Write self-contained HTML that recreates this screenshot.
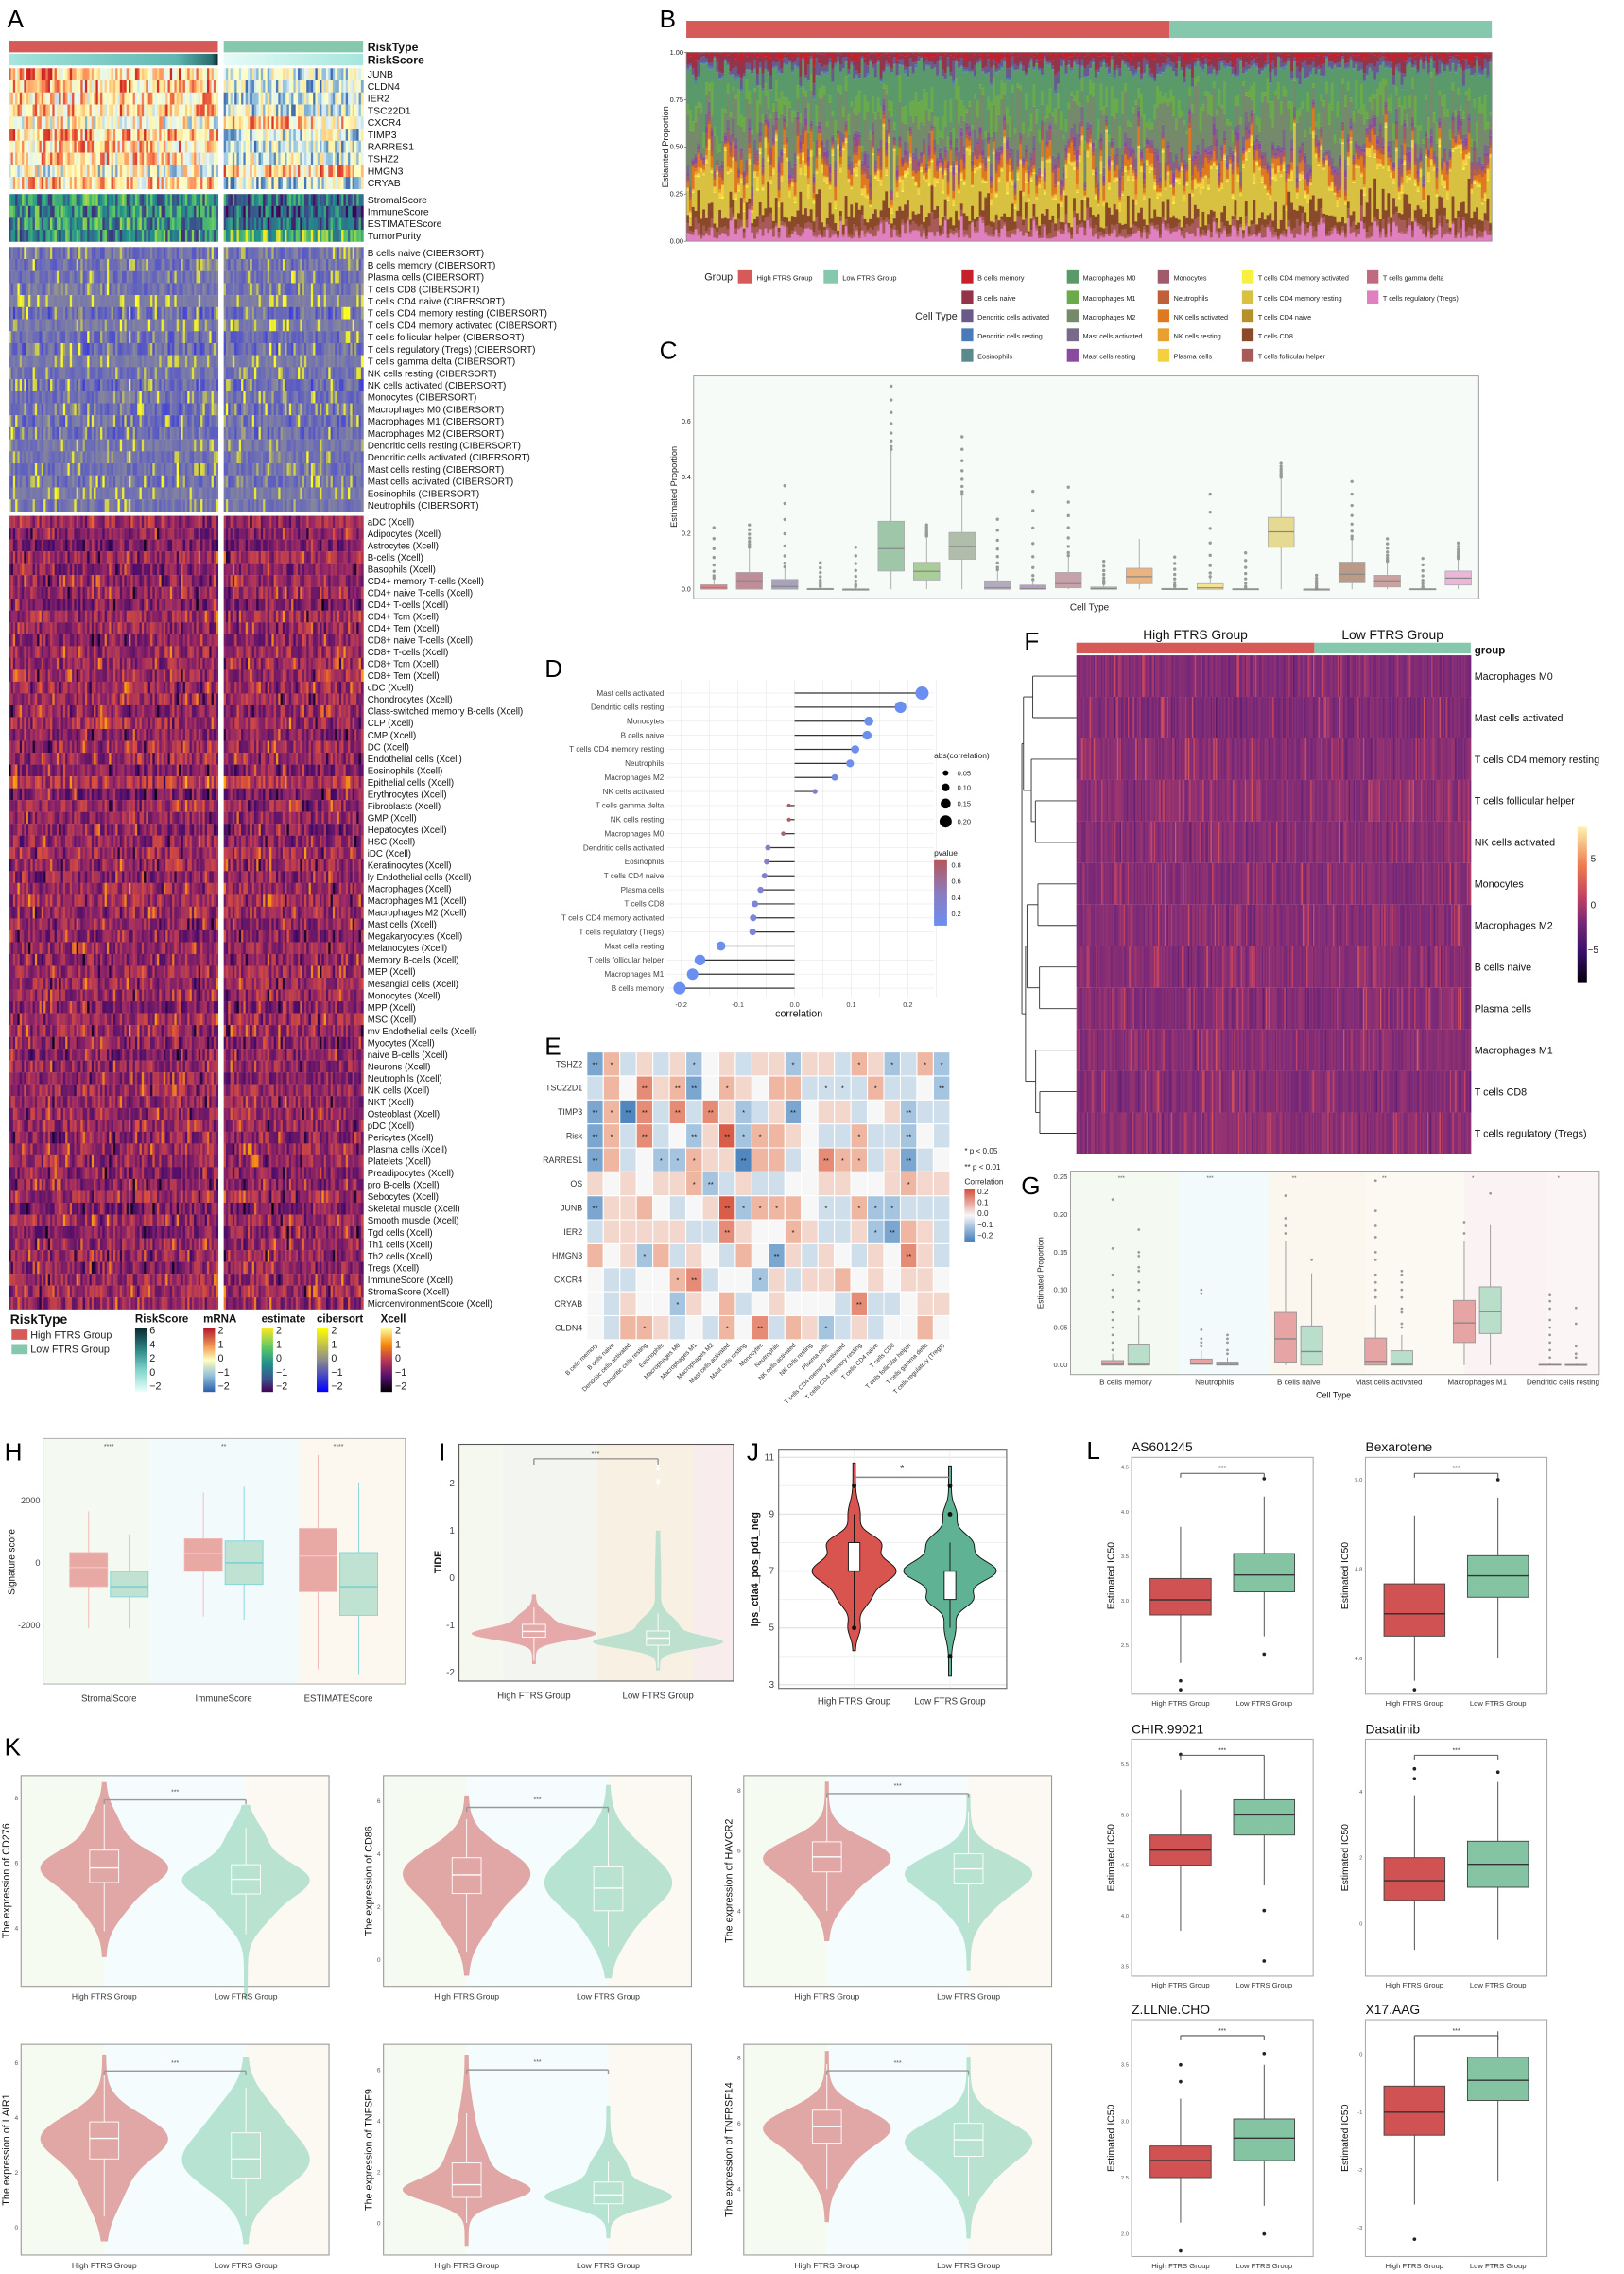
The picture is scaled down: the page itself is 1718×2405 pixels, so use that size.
<!DOCTYPE html>
<html><head><meta charset="utf-8"><title>Immune infiltration figure</title>
<style>
html,body{margin:0;padding:0;background:#fff;}
svg{display:block;font-family:"Liberation Sans",Arial,sans-serif;}
</style></head>
<body>
<svg id="fig" xmlns="http://www.w3.org/2000/svg" viewBox="0 0 1118 1565" width="1718" height="2405">
<defs>
<linearGradient id="gRisk" x1="0" y1="0" x2="0" y2="1"><stop offset="0" stop-color="#0b2a30"/><stop offset="0.35" stop-color="#2e8a88"/><stop offset="0.65" stop-color="#7fd3cb"/><stop offset="1" stop-color="#eafffb"/></linearGradient>
<linearGradient id="gRiskH" x1="0" y1="0" x2="1" y2="0"><stop offset="0" stop-color="#a6e6dd"/><stop offset="0.8" stop-color="#5fb7b1"/><stop offset="0.97" stop-color="#2a6e70"/><stop offset="1" stop-color="#0b2a30"/></linearGradient>
<linearGradient id="gRiskL" x1="0" y1="0" x2="1" y2="0"><stop offset="0" stop-color="#e6fbf7"/><stop offset="1" stop-color="#a6e6dd"/></linearGradient>
<linearGradient id="gMrna" x1="0" y1="0" x2="0" y2="1"><stop offset="0" stop-color="#b2182b"/><stop offset="0.3" stop-color="#f4a05a"/><stop offset="0.5" stop-color="#ffffbf"/><stop offset="0.75" stop-color="#91bfdb"/><stop offset="1" stop-color="#2c5fa8"/></linearGradient>
<linearGradient id="gEst" x1="0" y1="0" x2="0" y2="1"><stop offset="0" stop-color="#fde725"/><stop offset="0.3" stop-color="#5dc963"/><stop offset="0.55" stop-color="#21908d"/><stop offset="0.8" stop-color="#3b528b"/><stop offset="1" stop-color="#440154"/></linearGradient>
<linearGradient id="gCib" x1="0" y1="0" x2="0" y2="1"><stop offset="0" stop-color="#ffff00"/><stop offset="0.5" stop-color="#8c8c8c"/><stop offset="1" stop-color="#0000ff"/></linearGradient>
<linearGradient id="gXc" x1="0" y1="0" x2="0" y2="1"><stop offset="0" stop-color="#fcffa4"/><stop offset="0.25" stop-color="#f98c0a"/><stop offset="0.5" stop-color="#bc3754"/><stop offset="0.75" stop-color="#57106e"/><stop offset="1" stop-color="#000004"/></linearGradient>
<linearGradient id="gCor" x1="0" y1="0" x2="0" y2="1"><stop offset="0" stop-color="#d44a36"/><stop offset="0.5" stop-color="#f7f7f7"/><stop offset="1" stop-color="#3f7ab8"/></linearGradient>
<linearGradient id="gP" x1="0" y1="0" x2="0" y2="1"><stop offset="0" stop-color="#b5575a"/><stop offset="0.5" stop-color="#8c7bbf"/><stop offset="1" stop-color="#6b8ff0"/></linearGradient>
<linearGradient id="gF" x1="0" y1="0" x2="0" y2="1"><stop offset="0" stop-color="#fcf3b0"/><stop offset="0.25" stop-color="#ee7a4e"/><stop offset="0.45" stop-color="#c24262"/><stop offset="0.6" stop-color="#7b2a78"/><stop offset="0.8" stop-color="#3a0f6a"/><stop offset="1" stop-color="#05000a"/></linearGradient>
</defs>
</svg>
<script>
// ---------------- data arrays ----------------
const geneRows=['JUNB','CLDN4','IER2','TSC22D1','CXCR4','TIMP3','RARRES1','TSHZ2','HMGN3','CRYAB'];
const geneHighMean=[0.64,0.62,0.6,0.6,0.5,0.63,0.6,0.58,0.46,0.6];
const geneLowMean=[0.36,0.36,0.36,0.38,0.6,0.38,0.36,0.4,0.62,0.36];
const scoreRows=['StromalScore','ImmuneScore','ESTIMATEScore','TumorPurity'];
const scoreHighMean=[0.52,0.5,0.52,0.5];
const scoreLowMean=[0.35,0.3,0.33,0.7];
const cibRows=['B cells naive','B cells memory','Plasma cells','T cells CD8','T cells CD4 naive','T cells CD4 memory resting','T cells CD4 memory activated','T cells follicular helper','T cells regulatory (Tregs)','T cells gamma delta','NK cells resting','NK cells activated','Monocytes','Macrophages M0','Macrophages M1','Macrophages M2','Dendritic cells resting','Dendritic cells activated','Mast cells resting','Mast cells activated','Eosinophils','Neutrophils'];
const cibMean=[0.4,0.4,0.4,0.4,0.5,0.38,0.46,0.38,0.38,0.47,0.42,0.38,0.4,0.38,0.38,0.38,0.44,0.42,0.4,0.4,0.46,0.42];
const cibSpread=[0.2,0.2,0.18,0.2,0.05,0.25,0.12,0.22,0.25,0.1,0.15,0.25,0.18,0.22,0.22,0.22,0.12,0.15,0.18,0.2,0.1,0.15];
const xcRows=['aDC','Adipocytes','Astrocytes','B-cells','Basophils','CD4+ memory T-cells','CD4+ naive T-cells','CD4+ T-cells','CD4+ Tcm','CD4+ Tem','CD8+ naive T-cells','CD8+ T-cells','CD8+ Tcm','CD8+ Tem','cDC','Chondrocytes','Class-switched memory B-cells','CLP','CMP','DC','Endothelial cells','Eosinophils','Epithelial cells','Erythrocytes','Fibroblasts','GMP','Hepatocytes','HSC','iDC','Keratinocytes','ly Endothelial cells','Macrophages','Macrophages M1','Macrophages M2','Mast cells','Megakaryocytes','Melanocytes','Memory B-cells','MEP','Mesangial cells','Monocytes','MPP','MSC','mv Endothelial cells','Myocytes','naive B-cells','Neurons','Neutrophils','NK cells','NKT','Osteoblast','pDC','Pericytes','Plasma cells','Platelets','Preadipocytes','pro B-cells','Sebocytes','Skeletal muscle','Smooth muscle','Tgd cells','Th1 cells','Th2 cells','Tregs','ImmuneScore','StromaScore','MicroenvironmentScore'];
const xcMean=[0.5,0.45,0.42,0.5,0.44,0.45,0.48,0.42,0.5,0.48,0.46,0.5,0.48,0.5,0.52,0.5,0.48,0.52,0.45,0.5,0.5,0.44,0.55,0.42,0.5,0.48,0.45,0.48,0.52,0.5,0.45,0.5,0.52,0.48,0.46,0.44,0.48,0.46,0.5,0.5,0.48,0.44,0.52,0.5,0.44,0.45,0.48,0.46,0.5,0.48,0.5,0.48,0.46,0.5,0.48,0.45,0.46,0.5,0.42,0.5,0.45,0.5,0.48,0.46,0.5,0.5,0.48];

const cellTypes=['B cells memory','B cells naive','Dendritic cells activated','Dendritic cells resting','Eosinophils','Macrophages M0','Macrophages M1','Macrophages M2','Mast cells activated','Mast cells resting','Monocytes','Neutrophils','NK cells activated','NK cells resting','Plasma cells','T cells CD4 memory activated','T cells CD4 memory resting','T cells CD4 naive','T cells CD8','T cells follicular helper','T cells gamma delta','T cells regulatory (Tregs)'];
const cellColors=['#c8202a','#94344a','#6a5a8a','#4a7ab8','#5a8a8c','#5a9a6a','#6aaa4a','#748a6a','#786a88','#8a4aa0','#a05a6a','#c0603a','#e07820','#e8a030','#f2d040','#f8f040','#d8c040','#b8902a','#8a4a2a','#a85a58','#c06a80','#e080c0'];
const stackMean=[0.02,0.04,0.03,0.005,0.005,0.17,0.07,0.16,0.03,0.02,0.04,0.01,0.05,0.01,0.02,0.005,0.2,0.002,0.07,0.035,0.005,0.045];
const nSamples=300, nHigh=181;

const cBoxes=[[0,0,0.005,0.016,0.04,0.22],[0,0,0.03,0.06,0.15,0.23],[0,0,0.01,0.035,0.08,0.37],[0,0,0,0.003,0.01,0.095],[0,0,0,0,0.01,0.15],[0,0.065,0.145,0.243,0.5,0.726],[0,0.033,0.064,0.096,0.19,0.23],[0,0.107,0.153,0.203,0.34,0.545],[0,0,0.005,0.03,0.07,0.25],[0,0,0.002,0.015,0.035,0.35],[0,0.005,0.02,0.06,0.12,0.365],[0,0,0.002,0.008,0.02,0.1],[0,0.02,0.045,0.075,0.18,0.18],[0,0,0,0.003,0.01,0.115],[0,0,0.005,0.02,0.045,0.34],[0,0,0,0.002,0.005,0.13],[0,0.15,0.205,0.257,0.4,0.45],[0,0,0,0,0,0.05],[0,0.023,0.054,0.097,0.18,0.385],[0,0.008,0.03,0.05,0.1,0.18],[0,0,0,0.002,0.005,0.11],[0,0.015,0.04,0.065,0.11,0.165]];

const dCells=['Mast cells activated','Dendritic cells resting','Monocytes','B cells naive','T cells CD4 memory resting','Neutrophils','Macrophages M2','NK cells activated','T cells gamma delta','NK cells resting','Macrophages M0','Dendritic cells activated','Eosinophils','T cells CD4 naive','Plasma cells','T cells CD8','T cells CD4 memory activated','T cells regulatory (Tregs)','Mast cells resting','T cells follicular helper','Macrophages M1','B cells memory'];
const dCorr=[0.225,0.187,0.131,0.128,0.107,0.098,0.071,0.036,-0.01,-0.01,-0.02,-0.047,-0.049,-0.053,-0.06,-0.07,-0.073,-0.074,-0.13,-0.167,-0.18,-0.203];
const dPval=[0.0001,0.0005,0.01,0.01,0.03,0.05,0.16,0.45,0.86,0.87,0.75,0.38,0.37,0.33,0.27,0.2,0.18,0.18,0.02,0.002,0.001,0.0003];

const eRows=['TSHZ2','TSC22D1','TIMP3','Risk','RARRES1','OS','JUNB','IER2','HMGN3','CXCR4','CRYAB','CLDN4'];
const eVals=['BcDdDdC0dDddCddDcdCDcC','Dc0bdcB0cd0ccDDDDcDD0C','BcAbDbDbdCDdB0ddD0dCDD','BcDbD0CdaCccd0DDcDDC0D','BcD0CCcddAccD0bccDdBD0','d0d0ddcCDdDD00dd00dcdd','Bddc0D0daCccc0DDcCCDDD','DdddddDDbd00cdDDdCBcdD','c0dCcDd0Dc0BdDd0Dd0bdD','0DD00cbD00CdDddc0d0dd0','0Dd00Cd0cD0d000DbDD0dd','0DccdD0Dc0bDcdCDdD00c0'];
const eStars=['2100001000001000101011','0002022010000011010002','2122020201002000000200','2102002021100000100200','2000111002000021100200','0000001200000000000100','2000000021110010111000','0000000020001000012000','0001000000020000000200','0000012000100000000000','0000010000000000200000','0001000010200010000000'];

const fRows=['Macrophages M0','Mast cells activated','T cells CD4 memory resting','T cells follicular helper','NK cells activated','Monocytes','Macrophages M2','B cells naive','Plasma cells','Macrophages M1','T cells CD8','T cells regulatory (Tregs)'];
const fMean=[0.6,0.58,0.62,0.63,0.62,0.61,0.62,0.62,0.61,0.62,0.61,0.63];

const gCells=['B cells memory','Neutrophils','B cells naive','Mast cells activated','Macrophages M1','Dendritic cells resting'];
const gHigh=[[0,0,0.001,0.006,0.015],[0,0.001,0.002,0.008,0.02],[0,0.004,0.035,0.07,0.165],[0,0,0.005,0.036,0.08],[0,0.03,0.056,0.086,0.165],[0,0,0.0005,0.001,0.003]];
const gLow=[[0,0,0.001,0.028,0.066],[0,0,0.001,0.004,0.01],[0,0,0.018,0.052,0.122],[0,0,0.001,0.019,0.04],[0,0.042,0.071,0.104,0.186],[0,0,0,0.001,0.002]];
const gHighOut=[[0.22,0.155,0.12,0.1,0.09,0.07,0.06,0.05,0.04,0.03,0.02],[0.1,0.095,0.047,0.035,0.03,0.025],[0.225,0.195,0.185,0.175],[0.245,0.205,0.185,0.17,0.15,0.14,0.12,0.11,0.1,0.09],[0.19,0.175],[0.093,0.085,0.075,0.06,0.05,0.04,0.03,0.02,0.01]];
const gLowOut=[[0.18,0.15,0.145,0.13,0.125,0.11,0.1,0.085,0.075],[0.04,0.035,0.03,0.02,0.015],[0.14],[0.125,0.12,0.11,0.1,0.09,0.075,0.07,0.055,0.05],[0.228],[0.076,0.055,0.025,0.015,0.01]];
const gStars=['***','***','**','**','*','*'];

const hCats=['StromalScore','ImmuneScore','ESTIMATEScore'];
const hHigh=[[-2100,-760,-150,330,1650],[-1720,-270,300,770,2250],[-3410,-920,220,1100,3450]];
const hLow=[[-2100,-1090,-760,-280,910],[-1820,-690,0,700,2440],[-3560,-1680,-760,330,2580]];
const hStars=['****','**','****'];

const iHighBox=[-1.75,-1.25,-1.13,-0.98,-0.62];
const iLowBox=[-1.9,-1.42,-1.27,-1.12,-0.75];

const jHighBox=[5,7,7,8,9];
const jLowBox=[5,6,7,7,8];

const kGenes=['CD276','CD86','HAVCR2','LAIR1','TNFSF9','TNFRSF14'];
const kDomain=[[2.2,8.7],[-1,6.95],[1.5,8.5],[-1,6.67],[-1.26,7],[2,8.4]];
const kTicks=[[4,6,8],[0,2,4,6],[4,6,8],[0,2,4,6],[0,2,4,6],[4,6,8]];
const kHighComp=[[[5.9,0.55,1],[4.8,0.6,0.35],[7.2,0.5,0.2]],[[3.3,0.9,1],[1.5,0.8,0.3]],[[5.8,0.6,1],[4.6,0.6,0.3]],[[3.3,0.8,1],[1.5,0.9,0.3]],[[1.25,0.45,1],[2.3,0.8,0.35],[4,0.9,0.1]],[[5.9,0.55,1],[4.8,0.6,0.3]]];
const kLowComp=[[[5.5,0.55,1],[4.4,0.5,0.3],[6.8,0.5,0.25]],[[2.7,0.9,1],[4,0.9,0.45],[1,0.8,0.25]],[[5.3,0.6,1],[4.2,0.6,0.3]],[[2.4,1.0,1],[4.2,0.8,0.3]],[[1.0,0.4,1],[2.1,0.6,0.3]],[[5.5,0.6,1],[4.4,0.6,0.3]]];
const kRange=[[[3.1,8.5],[1.8,7.8]],[[-0.6,6.2],[-0.7,6.6]],[[3,8.3],[2,7.9]],[[-0.5,6.3],[-0.6,6.2]],[[-0.9,6.6],[-0.6,4.6]],[[3,8.2],[2.5,8]]];
const kHighBox=[[3.9,5.4,5.85,6.4,7.9],[0.3,2.5,3.2,3.85,5.3],[4,5.3,5.8,6.3,7.8],[0.4,2.5,3.25,3.85,5.6],[0,1,1.5,2.35,4.3],[4,5.4,5.9,6.4,7.8]];
const kLowBox=[[3.8,5.05,5.5,5.95,7.1],[0.5,1.85,2.7,3.5,5.5],[3.6,4.9,5.4,5.9,7.3],[0.4,1.8,2.5,3.45,5.1],[0,0.75,1.1,1.6,2.4],[3.8,5,5.5,6,7.4]];
const kBracket=[7.95,5.75,7.9,5.7,6,7.6];

const lDrugs=['AS601245','Bexarotene','CHIR.99021','Dasatinib','Z.LLNle.CHO','X17.AAG'];
const lDomain=[[1.95,4.61],[4.52,5.05],[3.4,5.75],[-1.6,5.6],[1.8,3.9],[-3.5,0.6]];
const lTicks=[[2.5,3.0,3.5,4.0,4.5],[4.6,4.8,5.0],[3.5,4.0,4.5,5.0,5.5],[0,2,4],[2.0,2.5,3.0,3.5],[-3,-2,-1,0]];
const lHigh=[[2.3,2.84,3.01,3.25,3.83],[4.55,4.65,4.70,4.767,4.92],[3.85,4.5,4.65,4.8,5.25],[-0.8,0.7,1.3,2.0,3.9],[2.1,2.5,2.65,2.78,3.2],[-2.6,-1.4,-1.0,-0.55,0.3]];
const lLow=[[2.6,3.1,3.29,3.53,4.17],[4.6,4.737,4.785,4.83,4.96],[4.3,4.8,5.0,5.15,5.55],[-0.5,1.1,1.8,2.5,4.3],[2.25,2.65,2.85,3.02,3.5],[-2.2,-0.8,-0.45,-0.05,0.4]];
const lHighOut=[[2.1,2.0],[4.53],[5.6],[4.4,4.7],[3.35,3.5,1.85],[-3.2]];
const lLowOut=[[4.37,2.4],[5.0],[4.05,3.55],[4.6],[3.6,2.0],[]];

// ---------------- helpers ----------------
const NS='http://www.w3.org/2000/svg';
const svg=document.getElementById('fig');
function mk(parent,tag,attrs,name,inter){
  const el=document.createElementNS(NS,tag);
  for(const k in attrs) el.setAttribute(k,attrs[k]);
  
  
  parent.appendChild(el);return el;
}
function txt(parent,x,y,s,size,extra,name){
  const a=Object.assign({x:x,y:y,'font-size':size,fill:'#222'},extra||{});
  const t=mk(parent,'text',a,name||'label',false);t.textContent=s;return t;
}
function grp(name){return mk(svg,'g',{},name,false);}
function hsh(a,b){const x=Math.sin(a*127.1+b*311.7+a*b*0.013)*43758.5453;return x-Math.floor(x);}
function hx(c){return [parseInt(c.slice(1,3),16),parseInt(c.slice(3,5),16),parseInt(c.slice(5,7),16)];}
function ramp(stops,t){t=Math.max(0,Math.min(0.9999,t));const n=stops.length-1;const i=Math.floor(t*n);const f=t*n-i;const a=hx(stops[i]),b=hx(stops[i+1]);return 'rgb('+a.map((v,k)=>Math.round(v+(b[k]-v)*f)).join(',')+')';}
function line(g,x1,y1,x2,y2,stroke,w,name){return mk(g,'line',{x1:x1,y1:y1,x2:x2,y2:y2,stroke:stroke,'stroke-width':w},name||'line',false);}
function rect(g,x,y,w,h,fill,name,extra){return mk(g,'rect',Object.assign({x:x,y:y,width:w,height:h,fill:fill},extra||{}),name||'rect',false);}
function letter(s,x,y){txt(svg,x,y,s,17,{fill:'#000'},'panel-letter-'+s);}
function boxplot(g,cx,bw,yOf,s,fill,stroke,name,medStroke){
  line(g,cx,yOf(s[0]),cx,yOf(s[1]),stroke,0.6,name+'-whisker-low');
  line(g,cx,yOf(s[3]),cx,yOf(s[4]),stroke,0.6,name+'-whisker-high');
  rect(g,cx-bw/2,yOf(s[3]),bw,Math.max(0.6,yOf(s[1])-yOf(s[3])),fill,name+'-box',{stroke:stroke,'stroke-width':0.6});
  line(g,cx-bw/2,yOf(s[2]),cx+bw/2,yOf(s[2]),medStroke||stroke,0.9,name+'-median');
}
function dens(comps,v){let s=0;for(const c of comps)s+=c[2]*Math.exp(-0.5*Math.pow((v-c[0])/c[1],2));return s;}
function violin(g,cx,yOf,vmin,vmax,comps,W,fill,stroke,sw,name,op){
  const N=80;let mx=0;const vals=[];
  for(let i=0;i<=N;i++){const v=vmin+(vmax-vmin)*i/N;const d=dens(comps,v);vals.push([v,d]);if(d>mx)mx=d;}
  const wOf=d=>W*(0.03+0.97*d/mx);
  let d='M'+vals.map(p=>(cx+wOf(p[1])).toFixed(2)+','+yOf(p[0]).toFixed(2)).join('L');
  for(let i=N;i>=0;i--){d+='L'+(cx-wOf(vals[i][1])).toFixed(2)+','+yOf(vals[i][0]).toFixed(2);}
  d+='Z';
  mk(g,'path',{d:d,fill:fill,stroke:stroke,'stroke-width':sw,'fill-opacity':op||1},name,false);
}

// ================= Panel A =================
(function(){
  letter('A',5,19);
  const g=grp('panel-a-heatmap');
  const X0=6,X1=150,X2=154,X3=250;const nL=96,nR=64;
  const cw1=(X1-X0)/nL,cw2=(X3-X2)/nR;
  const cols=[];for(let i=0;i<nL;i++)cols.push([X0+i*cw1,cw1,0,i]);for(let i=0;i<nR;i++)cols.push([X2+i*cw2,cw2,1,i+nL]);
  rect(g,X0,28,X1-X0,8,'#d65a58','risktype-high-bar');
  rect(g,X2,28,X3-X2,8,'#86c8ad','risktype-low-bar');
  rect(g,X0,37,X1-X0,8,'url(#gRiskH)','riskscore-high-bar');
  rect(g,X2,37,X3-X2,8,'url(#gRiskL)','riskscore-low-bar');
  txt(g,253,35,'RiskType',8,{'font-weight':'bold',fill:'#111'},'risktype-label');
  txt(g,253,44,'RiskScore',8,{'font-weight':'bold',fill:'#111'},'riskscore-label');
  const mrna=['#313695','#4575b4','#91bfdb','#e0f3f8','#ffffbf','#fee090','#fc8d59','#d73027','#a50026'];
  const vir=['#440154','#3b528b','#21908d','#5dc963','#fde725'];
  const cib=['#1010ff','#5555c8','#7070b4','#8a8a96','#c8c850','#ffff20'];
  const inf=['#000004','#420a68','#932667','#dd513a','#fca50a','#fcffa4'];
  function block(rows,y0,rh,colorFn,name,fs){
    rows.forEach((r,ri)=>{
      cols.forEach(c=>{
        rect(g,c[0].toFixed(2),(y0+ri*rh).toFixed(2),(c[1]+0.35).toFixed(2),(rh+0.1).toFixed(2),colorFn(ri,c[2],c[3]),name+'-cell');
      });
      txt(g,253,y0+ri*rh+rh*0.78,r,fs,{fill:'#111'},name+'-row-label');
    });
  }
  block(geneRows,47,8.3,(r,grpI,j)=>{const m=grpI?geneLowMean[r]:geneHighMean[r];const n=hsh(j,r+1);return ramp(mrna,m+(n-0.5)*0.55);},'mrna',6.8);
  block(scoreRows,133.5,8.2,(r,grpI,j)=>{const m=grpI?scoreLowMean[r]:scoreHighMean[r];const n=hsh(j,r+31);return ramp(vir,m+(n-0.5)*0.7);},'estimate',6.8);
  block(cibRows.map(s=>s+' (CIBERSORT)'),170,8.27,(r,grpI,j)=>{const n=hsh(j,r+71);const n2=hsh(j+500,r+9);let v=cibMean[r]+(n-0.5)*2*cibSpread[r];if(n2>0.86)v+=0.35+0.2*(n2-0.86)*5;return ramp(cib,v);},'cibersort',6.5);
  block(xcRows.map(s=>s+' (Xcell)'),355,8.15,(r,grpI,j)=>{const n=hsh(j,r+131);const n2=hsh(j+900,r+3);let v=xcMean[r]-0.08+(n-0.5)*0.3;if(n2>0.9)v+=0.2;if(n2<0.07)v-=0.18;return ramp(inf,v);},'xcell',6.3);
  const lg=grp('panel-a-legend');
  txt(lg,7,911,'RiskType',9,{'font-weight':'bold',fill:'#111'},'legend-risktype-title');
  rect(lg,8,915,11,7,'#d65a58','legend-high-swatch');txt(lg,21,921,'High FTRS Group',7,{},'legend-high-label');
  rect(lg,8,925,11,7,'#86c8ad','legend-low-swatch');txt(lg,21,931,'Low FTRS Group',7,{},'legend-low-label');
  const bars=[[93,'RiskScore','url(#gRisk)',['6','4','2','0','−2']],[140,'mRNA','url(#gMrna)',['2','1','0','−1','−2']],[180,'estimate','url(#gEst)',['2','1','0','−1','−2']],[218,'cibersort','url(#gCib)',['2','1','0','−1','−2']],[262,'Xcell','url(#gXc)',['2','1','0','−1','−2']]];
  bars.forEach(b=>{
    txt(lg,b[0],910,b[1],7.5,{'font-weight':'bold',fill:'#111'},'legend-'+b[1]+'-title');
    rect(lg,b[0],914,8,44,b[2],'legend-'+b[1]+'-colorbar');
    b[3].forEach((s,i)=>txt(lg,b[0]+10,918+i*9.6,s,7,{},'legend-'+b[1]+'-tick'));
  });
})();

// ================= Panel B =================
(function(){
  letter('B',454,19);
  const g=grp('panel-b-stacked-bars');
  const X0=472.5,X1=1027,Y0=36,Y1=166;
  rect(g,X0,14.3,805-X0,11.7,'#d65a58','group-bar-high');
  rect(g,805,14.3,X1-805,11.7,'#86c8ad','group-bar-low');
  const bw=(X1-X0)/nSamples;
  const yOf=v=>Y1-v*(Y1-Y0);
  for(let s=0;s<nSamples;s++){
    const raw=stackMean.map((m,k)=>m*(0.25+1.5*hsh(s+3,k+7)*hsh(k+11,s+1)*1.6));
    const tot=raw.reduce((a,b)=>a+b,0);
    let cum=0;
    for(let k=cellTypes.length-1;k>=0;k--){
      const p=raw[k]/tot;
      rect(g,(X0+s*bw).toFixed(2),yOf(cum+p).toFixed(2),(bw+0.25).toFixed(2),(p*(Y1-Y0)+0.05).toFixed(2),cellColors[k],'stack-segment');
      cum+=p;
    }
  }
  mk(g,'rect',{x:X0,y:Y0,width:X1-X0,height:Y1-Y0,fill:'none',stroke:'#888','stroke-width':0.5},'plot-frame',false);
  ['0.00','0.25','0.50','0.75','1.00'].forEach((s,i)=>{txt(g,X0-2,yOf(i*0.25)+1.6,s,4.8,{'text-anchor':'end'},'y-tick-label');line(g,X0-1.5,yOf(i*0.25),X0,yOf(i*0.25),'#555',0.4,'y-tick');});
  txt(g,460,101,'Estiamted Proportion',6,{'text-anchor':'middle',transform:'rotate(-90 460 101)'},'y-axis-title');
  const lg=grp('panel-b-legend');
  txt(lg,485,193,'Group',7,{},'legend-group-title');
  rect(lg,508,186,10,9,'#d65a58','legend-high-swatch');txt(lg,521,193,'High FTRS Group',4.8,{},'legend-high-label');
  rect(lg,567,186,10,9,'#86c8ad','legend-low-swatch');txt(lg,580,193,'Low FTRS Group',4.8,{},'legend-low-label');
  txt(lg,630,220,'Cell Type',7,{},'legend-celltype-title');
  const cx=[662,734.5,797,855,941],ry=[191,205,218,231,245];
  cellTypes.forEach((c,i)=>{const col=Math.floor(i/5),row=i%5;rect(lg,cx[col],ry[row]-5,8,9,cellColors[i],'legend-swatch');txt(lg,cx[col]+11,ry[row]+2,c,4.7,{},'legend-entry');});
})();

// ================= Panel C =================
(function(){
  letter('C',454,247);
  const g=grp('panel-c-boxplots');
  const X0=477.5,X1=1018,Y0=258.7,Y1=412;
  rect(g,X0,Y0,X1-X0,Y1-Y0,'#f6fbf8','plot-background',{stroke:'#999','stroke-width':0.6});
  const yOf=v=>405.5-v*192.5;
  cBoxes.forEach((b,i)=>{
    const cx=491.5+i*24.4;
    const sg=mk(g,'g',{},'box-'+i,false);
    const col=cellColors[i];
    line(sg,cx,yOf(b[0]),cx,yOf(b[1]),'#999',0.5,'whisker');
    line(sg,cx,yOf(b[3]),cx,yOf(b[4]),'#999',0.5,'whisker');
    for(let k=0;k<8;k++){const v=b[4]+(b[5]-b[4])*Math.pow(k/7,1.6);if(b[5]>b[4])mk(sg,'circle',{cx:cx,cy:yOf(v),r:1.1,fill:'#999'},'outlier',false);}
    rect(sg,cx-9,yOf(b[3]),18,Math.max(0.8,yOf(b[1])-yOf(b[3])),col,'box',{'fill-opacity':0.55,stroke:'#aaa','stroke-width':0.5});
    line(sg,cx-9,yOf(b[2]),cx+9,yOf(b[2]),'#888',0.8,'median');
  });
  ['0.0','0.2','0.4','0.6'].forEach((s,i)=>{txt(g,X0-2,yOf(i*0.2)+1.5,s,4.5,{'text-anchor':'end'},'y-tick-label');});
  txt(g,750,420,'Cell Type',6.5,{'text-anchor':'middle'},'x-axis-title');
  txt(g,466,335,'Estimated Proportion',6,{'text-anchor':'middle',transform:'rotate(-90 466 335)'},'y-axis-title');
})();

// ================= Panel D =================
(function(){
  letter('D',375,466);
  const g=grp('panel-d-lollipop');
  const xOf=v=>547+v*390;const yOf=i=>477+i*9.67;
  for(let v=-0.2;v<=0.2501;v+=0.05){line(g,xOf(v),468,xOf(v),686,'#ececec',0.5,'grid-x');}
  dCells.forEach((c,i)=>line(g,459,yOf(i),643,yOf(i),'#ececec',0.5,'grid-y'));
  dCells.forEach((c,i)=>{
    txt(g,457,yOf(i)+1.8,c,5.3,{'text-anchor':'end',fill:'#444'},'row-label');
    line(g,xOf(0),yOf(i),xOf(dCorr[i]),yOf(i),'#333',0.8,'lollipop-stem');
    const col=ramp(['#6b8ff0','#8c7bbf','#b5575a'],dPval[i]/0.9);
    mk(g,'circle',{cx:xOf(dCorr[i]),cy:yOf(i),r:1.2+Math.abs(dCorr[i])*15,fill:col},'lollipop-dot',false);
  });
  ['-0.2','-0.1','0.0','0.1','0.2'].forEach((s,i)=>txt(g,xOf(-0.2+i*0.1),693,s,4.8,{'text-anchor':'middle',fill:'#444'},'x-tick-label'));
  txt(g,550,700,'correlation',7,{'text-anchor':'middle',fill:'#111'},'x-axis-title');
  txt(g,643,522,'abs(correlation)',5.5,{},'legend-size-title');
  [0.05,0.10,0.15,0.20].forEach((v,i)=>{const y=532+i*9.3+i*i*0.6;mk(g,'circle',{cx:651,cy:y,r:1.2+v*15,fill:'#000'},'legend-size-dot',false);txt(g,659,y+1.8,v.toFixed(2),4.8,{},'legend-size-label');});
  txt(g,643,589,'pvalue',5.5,{},'legend-pvalue-title');
  rect(g,643,592,9,45,'url(#gP)','legend-pvalue-colorbar');
  ['0.8','0.6','0.4','0.2'].forEach((s,i)=>txt(g,655,597+i*11.2,s,4.8,{},'legend-pvalue-label'));
})();

// ================= Panel E =================
(function(){
  letter('E',375,726);
  const g=grp('panel-e-corr-heatmap');
  const x0=404,cw=11.36,y0=724,rh=16.5;
  const map={A:-0.2,B:-0.15,C:-0.1,D:-0.05,'0':0,d:0.05,c:0.1,b:0.15,a:0.2};
  eRows.forEach((r,ri)=>{
    txt(g,401,y0+ri*rh+rh/2+2,r,5.8,{'text-anchor':'end',fill:'#333'},'row-label');
    for(let j=0;j<cellTypes.length;j++){
      const v=map[eVals[ri][j]];
      rect(g,x0+j*cw,y0+ri*rh,cw,rh,ramp(['#3f7ab8','#9cbfdd','#f7f7f7','#eeb09a','#d44a36'],(v+0.22)/0.44),'corr-cell',{stroke:'#fff','stroke-width':0.7});
      const st=eStars[ri][j];
      if(st!=='0')txt(g,x0+j*cw+cw/2,y0+ri*rh+rh/2+2,st==='2'?'**':'*',5,{'text-anchor':'middle',fill:'#111'},'significance-star');
    }
  });
  cellTypes.forEach((c,j)=>{const x=x0+j*cw+cw/2+2,y=926;txt(g,x,y,c,4.3,{'text-anchor':'end',transform:'rotate(-45 '+x+' '+y+')',fill:'#333'},'column-label');});
  txt(g,664,794,'* p < 0.05',5.3,{},'legend-p05');
  txt(g,664,805,'** p < 0.01',5.3,{},'legend-p01');
  txt(g,664,815,'Correlation',5.5,{},'legend-corr-title');
  rect(g,664,818,7,37,'url(#gCor)','legend-corr-colorbar');
  ['0.2','0.1','0.0','−0.1','−0.2'].forEach((s,i)=>txt(g,673,822+i*7.5,s,5.3,{},'legend-corr-label'));
})();

// ================= Panel F =================
(function(){
  letter('F',705,447);
  const g=grp('panel-f-heatmap');
  const X0=741,X1=1012.5,Y0=451,rh=28.6;const nC=300,nH=181;
  const split=X0+(X1-X0)*nH/nC;
  rect(g,X0,442.3,split-X0,7.4,'#d65a58','group-bar-high');
  rect(g,split,442.3,X1-split,7.4,'#86c8ad','group-bar-low');
  txt(g,(X0+split)/2,440,'High FTRS Group',9,{'text-anchor':'middle',fill:'#111'},'high-group-label');
  txt(g,(split+X1)/2,440,'Low FTRS Group',9,{'text-anchor':'middle',fill:'#111'},'low-group-label');
  txt(g,1015,450,'group',7.5,{'font-weight':'bold',fill:'#111'},'group-label');
  const pal=['#05000a','#3a0f6a','#7b2a78','#c24262','#ee7a4e','#fcf3b0'];
  const cw=(X1-X0)/nC;
  fRows.forEach((r,ri)=>{
    for(let j=0;j<nC;j++){
      const n=hsh(j+17,ri+51),n2=hsh(j+333,ri+7);
      let v=fMean[ri]*0.7+(n-0.5)*0.12;if(n2>0.9)v+=0.1+(n2-0.9)*1.2;if(n2<0.05)v-=0.06;
      rect(g,(X0+j*cw).toFixed(2),(Y0+ri*rh).toFixed(2),(cw+0.3).toFixed(2),rh.toFixed(2),ramp(pal,v),'heat-cell');
    }
    txt(g,1015,Y0+ri*rh+rh/2+2.5,r,7,{fill:'#111'},'row-label');
  });
  const yc=i=>Y0+rh*(i+0.5);
  function join(x,a,b,nm){line(g,x,a[1],x,b[1],'#333',0.6,nm);line(g,x,a[1],a[0],a[1],'#333',0.6,nm);line(g,x,b[1],b[0],b[1],'#333',0.6,nm);return [x,(a[1]+b[1])/2];}
  const L=i=>[X0,yc(i)];
  const p01=join(711,L(0),L(1),'dendro');const p34=join(712.8,L(3),L(4),'dendro');const p234=join(710,L(2),p34,'dendro');
  const p04=join(704.6,p01,p234,'dendro');
  const p56=join(714.5,L(5),L(6),'dendro');const p78=join(715.6,L(7),L(8),'dendro');const p58=join(707,p56,p78,'dendro');
  const p1011=join(715.8,L(10),L(11),'dendro');const p911=join(713,L(9),p1011,'dendro');const p511=join(706,p58,p911,'dendro');
  join(703.5,p04,p511,'dendro');
  rect(g,1086,569,6.5,107.5,'url(#gF)','colorbar');
  txt(g,1095,593,'5',6.5,{},'colorbar-label');txt(g,1095,625,'0',6.5,{},'colorbar-label');txt(g,1093,656,'−5',6.5,{},'colorbar-label');
})();

// ================= Panel G =================
(function(){
  letter('G',703,822);
  const g=grp('panel-g-boxplots');
  const X0=737,X1=1101,Y0=806,Y1=946;
  const bands=['#f4faf1','#f3fafb','#fbf6ee','#fcf8f2','#fbf2f3','#fcf5f6'];
  const bx=[737,812,874,940,1008,1064,1101];
  bands.forEach((c,i)=>rect(g,bx[i],Y0,bx[i+1]-bx[i],Y1-Y0,c,'group-background'));
  mk(g,'rect',{x:X0,y:Y0,width:X1-X0,height:Y1-Y0,fill:'none',stroke:'#999','stroke-width':0.6},'plot-frame',false);
  const yOf=v=>939.5-v*518;
  const centers=[775,836,894,956,1017,1076];
  gCells.forEach((c,i)=>{
    const sg=mk(g,'g',{},'group-'+i,false);
    const hx_=centers[i]-9,lx=centers[i]+9;
    gHighOut[i].forEach(v=>mk(sg,'circle',{cx:hx_,cy:yOf(v),r:0.9,fill:'#999'},'outlier',false));
    gLowOut[i].forEach(v=>mk(sg,'circle',{cx:lx,cy:yOf(v),r:0.9,fill:'#999'},'outlier',false));
    boxplot(sg,hx_,15,yOf,gHigh[i],'#e6a4a4','#999','high-box','#888');
    boxplot(sg,lx,15,yOf,gLow[i],'#b9dfcb','#999','low-box','#888');
    txt(sg,centers[i],953,c,5.3,{'text-anchor':'middle',fill:'#333'},'x-tick-label');
    txt(sg,centers[i]-3,812,gStars[i],4,{'text-anchor':'middle',fill:'#555'},'significance');
  });
  ['0.00','0.05','0.10','0.15','0.20','0.25'].forEach((s,i)=>txt(g,X0-2,yOf(i*0.05)+1.6,s,5,{'text-anchor':'end',fill:'#444'},'y-tick-label'));
  txt(g,918,962,'Cell Type',5.8,{'text-anchor':'middle',fill:'#111'},'x-axis-title');
  txt(g,718,876,'Estimated Proportion',5.3,{'text-anchor':'middle',transform:'rotate(-90 718 876)'},'y-axis-title');
})();

// ================= Panel H =================
(function(){
  letter('H',3,1005);
  const g=grp('panel-h-boxplots');
  const X0=29.7,X1=279,Y0=990,Y1=1159;
  rect(g,X0,Y0,103-X0,Y1-Y0,'#f4faf1','band');rect(g,103,Y0,206-103,Y1-Y0,'#f3fafc','band');rect(g,206,Y0,X1-206,Y1-Y0,'#fcf8f0','band');
  mk(g,'rect',{x:X0,y:Y0,width:X1-X0,height:Y1-Y0,fill:'none',stroke:'#aaa','stroke-width':0.6},'plot-frame',false);
  const yOf=v=>1075.6-v*0.0215;
  const cx=[75,154,233];
  hCats.forEach((c,i)=>{
    boxplot(g,cx[i]-14,26,yOf,hHigh[i],'#e8a8a4','#f0b8b4','high-box','#f3c5c0');
    boxplot(g,cx[i]+14,26,yOf,hLow[i],'#bfe2d2','#7fd6d6','low-box','#6fd0d4');
    txt(g,cx[i],1171,c,6.3,{'text-anchor':'middle',fill:'#333'},'x-tick-label');
    txt(g,cx[i],997,hStars[i],4.5,{'text-anchor':'middle',fill:'#555'},'significance');
  });
  [2000,0,-2000].forEach(v=>txt(g,X0-2,yOf(v)+2,v===0?'0':(v<0?'-2000':'2000'),6,{'text-anchor':'end',fill:'#444'},'y-tick-label'));
  txt(g,10,1075,'Signature score',6.5,{'text-anchor':'middle',transform:'rotate(-90 10 1075)',fill:'#111'},'y-axis-title');
})();

// ================= Panel I =================
(function(){
  letter('I',302,1005);
  const g=grp('panel-i-violins');
  const X0=316,X1=505,Y0=994,Y1=1157;
  rect(g,X0,Y0,346-X0,Y1-Y0,'#f5f8ee','band');rect(g,346,Y0,411-346,Y1-Y0,'#f3f6f0','band');rect(g,411,Y0,477-411,Y1-Y0,'#f8f0e2','band');rect(g,477,Y0,X1-477,Y1-Y0,'#f8ecec','band');
  mk(g,'rect',{x:X0,y:Y0,width:X1-X0,height:Y1-Y0,fill:'none',stroke:'#555','stroke-width':0.7},'plot-frame',false);
  const yOf=v=>1086-v*32.6;
  violin(g,367.6,yOf,-1.82,-0.35,[[-1.18,0.13,1],[-0.85,0.15,0.25]],43,'#e3a1a1','none',0,'high-violin',0.9);
  violin(g,453,yOf,-1.95,1.0,[[-1.36,0.13,1],[-1.0,0.2,0.3],[0,0.5,0.02]],45,'#b7dfcd','none',0,'low-violin',0.9);
  boxplot(g,367.6,16,yOf,iHighBox,'none','#fff','high-box');
  boxplot(g,453,16,yOf,iLowBox,'none','#fff','low-box');
  [2.0,2.05,2.3,2.4].forEach(v=>mk(g,'circle',{cx:453,cy:yOf(v),r:1.2,fill:'#fff'},'outlier',false));
  line(g,367.6,1004,453,1004,'#777',0.7,'bracket');line(g,367.6,1004,367.6,1008,'#777',0.7,'bracket');line(g,453,1004,453,1008,'#777',0.7,'bracket');
  txt(g,410,1002,'***',5,{'text-anchor':'middle',fill:'#555'},'significance');
  [2,1,0,-1,-2].forEach(v=>txt(g,X0-3,yOf(v)+2,v<0?'-'+Math.abs(v):String(v),6.5,{'text-anchor':'end',fill:'#444'},'y-tick-label'));
  txt(g,304,1075,'TIDE',7,{'text-anchor':'middle',transform:'rotate(-90 304 1075)','font-weight':'bold',fill:'#111'},'y-axis-title');
  txt(g,367.6,1169,'High FTRS Group',6.3,{'text-anchor':'middle',fill:'#333'},'x-tick-label');
  txt(g,453,1169,'Low FTRS Group',6.3,{'text-anchor':'middle',fill:'#333'},'x-tick-label');
})();

// ================= Panel J =================
(function(){
  letter('J',514,1005);
  const g=grp('panel-j-violins');
  const X0=536,X1=693,Y0=998,Y1=1162;
  rect(g,X0,Y0,X1-X0,Y1-Y0,'#fff','plot-background');
  const yy=v=>1003+(11-v)*19.56;
  for(let v=3;v<=11;v+=1)line(g,X0,yy(v),X1,yy(v),v%2?'#e4e4e4':'#f0f0f0',v%2?0.9:0.6,'grid');
  line(g,588,Y0,588,Y1,'#eee',0.6,'grid');line(g,654,Y0,654,Y1,'#eee',0.6,'grid');
  mk(g,'rect',{x:X0,y:Y0,width:X1-X0,height:Y1-Y0,fill:'none',stroke:'#777','stroke-width':0.8},'plot-frame',false);
  violin(g,588,yy,4.2,10.8,[[7,0.45,1],[8,0.3,0.55],[6,0.35,0.3],[5,0.3,0.12],[9,0.4,0.12]],29,'#d9534f','#111',0.6,'high-violin');
  violin(g,654,yy,3.3,10.7,[[7,0.4,1],[8,0.35,0.45],[6,0.3,0.45],[5,0.4,0.1],[9,0.3,0.12]],32,'#5fb394','#111',0.6,'low-violin');
  boxplot(g,588,8,yy,jHighBox,'#fff','#111','high-box');
  boxplot(g,654,8,yy,jLowBox,'#fff','#111','low-box');
  [[588,10],[588,5],[654,10],[654,9],[654,4]].forEach(p=>mk(g,'circle',{cx:p[0],cy:yy(p[1]),r:1.6,fill:'#111'},'outlier',false));
  line(g,588,yy(10.3),654,yy(10.3),'#888',1,'bracket');
  txt(g,621,yy(10.5),'*',7,{'text-anchor':'middle',fill:'#333'},'significance');
  [11,9,7,5,3].forEach(v=>txt(g,X0-3,yy(v)+2,String(v),6.5,{'text-anchor':'end',fill:'#444'},'y-tick-label'));
  txt(g,522,1080,'ips_ctla4_pos_pd1_neg',7,{'text-anchor':'middle',transform:'rotate(-90 522 1080)','font-weight':'bold',fill:'#111'},'y-axis-title');
  txt(g,588,1173,'High FTRS Group',6.3,{'text-anchor':'middle',fill:'#333'},'x-tick-label');
  txt(g,654,1173,'Low FTRS Group',6.3,{'text-anchor':'middle',fill:'#333'},'x-tick-label');
})();

// ================= Panel K =================
(function(){
  letter('K',3,1208);
  const colX=[14.5,264,512];const rowY=[1222,1407];const W=212,H=145;
  kGenes.forEach((gname,i)=>{
    const col=i%3,row=Math.floor(i/3);
    const x0=colX[col],y0=rowY[row];
    const g=grp('panel-k-'+gname);
    const hc=x0+W*0.27,lc=x0+W*0.73;
    rect(g,x0,y0,hc-x0,H,'#f6fbf2','band');rect(g,hc,y0,lc-hc,H,'#f5fcfd','band');rect(g,lc,y0,x0+W-lc,H,'#fcf9f2','band');
    mk(g,'rect',{x:x0,y:y0,width:W,height:H,fill:'none',stroke:'#999','stroke-width':0.7},'plot-frame',false);
    const d=kDomain[i];const yOf=v=>y0+H-(v-d[0])/(d[1]-d[0])*H;
    violin(g,hc,yOf,kRange[i][0][0],kRange[i][0][1],kHighComp[i],44,'#dc9896','none',0,'high-violin',0.85);
    violin(g,lc,yOf,kRange[i][1][0],kRange[i][1][1],kLowComp[i],44,'#a8dcc8','none',0,'low-violin',0.8);
    boxplot(g,hc,20,yOf,kHighBox[i],'none','#fff','high-box');
    boxplot(g,lc,20,yOf,kLowBox[i],'none','#fff','low-box');
    const by=yOf(kBracket[i]);
    line(g,hc,by,lc,by,'#999',0.9,'bracket');line(g,hc,by,hc,by+3,'#999',0.9,'bracket');line(g,lc,by,lc,by+3,'#999',0.9,'bracket');
    txt(g,(hc+lc)/2,by-4,'***',4.5,{'text-anchor':'middle',fill:'#555'},'significance');
    kTicks[i].forEach(v=>txt(g,x0-2,yOf(v)+1.5,String(v),4.3,{'text-anchor':'end',fill:'#555'},'y-tick-label'));
    const tx=x0-8,ty=y0+H/2;
    txt(g,tx,ty,'The expression of '+gname,7,{'text-anchor':'middle',transform:'rotate(-90 '+tx+' '+ty+')',fill:'#111'},'y-axis-title');
    txt(g,hc,y0+H+9,'High FTRS Group',5.6,{'text-anchor':'middle',fill:'#333'},'x-tick-label');
    txt(g,lc,y0+H+9,'Low FTRS Group',5.6,{'text-anchor':'middle',fill:'#333'},'x-tick-label');
  });
})();

// ================= Panel L =================
(function(){
  letter('L',748,1004);
  const colX=[779,940];const rowY=[1003,1197,1390];const W=125,H=163;
  lDrugs.forEach((dn,i)=>{
    const col=i%2,row=Math.floor(i/2);
    const x0=colX[col],y0=rowY[row];
    const g=grp('panel-l-'+dn);
    txt(g,x0,y0-4,dn,9,{fill:'#111'},'subplot-title');
    rect(g,x0,y0,W,H,'#fff','plot-background',{stroke:'#aaa','stroke-width':0.7});
    const d=lDomain[i];const yOf=v=>y0+H-(v-d[0])/(d[1]-d[0])*H;
    const hc=x0+W*0.27,lc=x0+W*0.73;
    boxplot(g,hc,42,yOf,lHigh[i],'#d05252','#444','high-box','#333');
    boxplot(g,lc,42,yOf,lLow[i],'#84c4a3','#444','low-box','#333');
    lHighOut[i].forEach(v=>mk(g,'circle',{cx:hc,cy:yOf(v),r:1.2,fill:'#222'},'outlier',false));
    lLowOut[i].forEach(v=>mk(g,'circle',{cx:lc,cy:yOf(v),r:1.2,fill:'#222'},'outlier',false));
    const by=y0+11;
    line(g,hc,by,lc,by,'#555',0.7,'bracket');line(g,hc,by,hc,by+3,'#555',0.7,'bracket');line(g,lc,by,lc,by+3,'#555',0.7,'bracket');
    txt(g,(hc+lc)/2,by-2,'***',4.5,{'text-anchor':'middle',fill:'#333'},'significance');
    lTicks[i].forEach(v=>{const y=yOf(v);if(y>=y0&&y<=y0+H)txt(g,x0-2,y+1.3,(dn!=='Dasatinib'&&dn!=='X17.AAG')?v.toFixed(1):String(v),3.8,{'text-anchor':'end',fill:'#555'},'y-tick-label');});
    const tx=x0-12,ty=y0+H/2;
    txt(g,tx,ty,'Estimated IC50',6.8,{'text-anchor':'middle',transform:'rotate(-90 '+tx+' '+ty+')',fill:'#111'},'y-axis-title');
    txt(g,hc,y0+H+8,'High FTRS Group',5,{'text-anchor':'middle',fill:'#333'},'x-tick-label');
    txt(g,lc,y0+H+8,'Low FTRS Group',5,{'text-anchor':'middle',fill:'#333'},'x-tick-label');
  });
})();
</script>
</body></html>
